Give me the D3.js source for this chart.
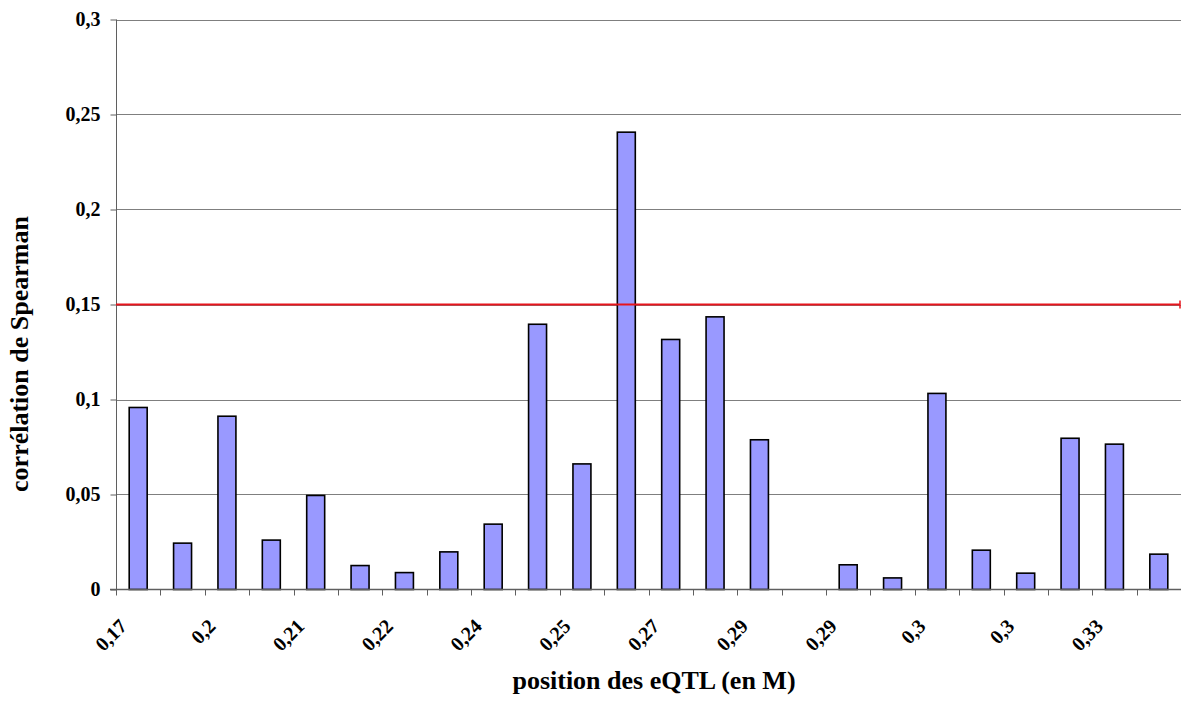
<!DOCTYPE html>
<html>
<head>
<meta charset="utf-8">
<script src="https://cdn.jsdelivr.net/npm/d3@7"></script>
<style>
  html, body { margin: 0; padding: 0; background: #fff; }
  svg { display: block; }
  text { font-family: "Liberation Serif", "Times New Roman", serif; font-weight: bold; fill: #000; }
</style>
</head>
<body>
<svg id="chart" width="1181" height="702"></svg>
<script>
// eQTL index along the chromosome (one bar each)
const categories = ["q1","q2","q3","q4","q5","q6","q7","q8","q9","q10","q11","q12",
                    "q13","q14","q15","q16","q17","q18","q19","q20","q21","q22","q23","q24"];
// Spearman correlation for each eQTL
const spearman = [0.0958, 0.0244, 0.0912, 0.0260, 0.0495, 0.0126, 0.0089, 0.0198,
                  0.0344, 0.1396, 0.0661, 0.2407, 0.1316, 0.1435, 0.0788, 0.0,
                  0.0130, 0.0061, 0.1032, 0.0207, 0.0086, 0.0796, 0.0765, 0.0186];
// Position labels (in M) shown under every other eQTL
const tickLabels = ["0,17","0,2","0,21","0,22","0,24","0,25","0,27","0,29","0,29","0,3","0,3","0,33"];
// Y axis ticks
const yTicks = [0, 0.05, 0.1, 0.15, 0.2, 0.25, 0.3];
const threshold = 0.15;

const margin = { left: 116, top: 19.5, right: 1181, bottom: 589.5 };
const svg = d3.select("#chart");

const x = d3.scaleBand().domain(categories).range([margin.left, margin.right]).paddingInner(0).paddingOuter(0);
const y = d3.scaleLinear().domain([0, 0.3]).range([margin.bottom, margin.top]);
const fmt = v => String(v).replace(".", ",");

// horizontal gridlines
svg.append("g").selectAll("line")
  .data(yTicks.filter(v => v > 0))
  .join("line")
  .attr("x1", margin.left).attr("x2", margin.right)
  .attr("y1", d => Math.round(y(d)) + 0.5).attr("y2", d => Math.round(y(d)) + 0.5)
  .attr("stroke", "#7f7f7f").attr("stroke-width", 1);

// bars
const bw = x.bandwidth() * 0.405;
svg.append("g").selectAll("rect")
  .data(spearman.map((v, i) => ({ c: categories[i], v })).filter(d => d.v > 0))
  .join("rect")
  .attr("x", d => x(d.c) + (x.bandwidth() - bw) / 2)
  .attr("y", d => y(d.v))
  .attr("width", bw)
  .attr("height", d => y(0) - y(d.v))
  .attr("fill", "#9999ff")
  .attr("stroke", "#000")
  .attr("stroke-width", 1.6);

// y axis
const yAxis = d3.axisLeft(y).tickValues(yTicks).tickSize(6).tickPadding(10).tickFormat(fmt);
const gy = svg.append("g").attr("transform", `translate(${margin.left + 0.5},0)`).call(yAxis);
gy.select(".domain").attr("stroke", "#5f5f5f").attr("d", `M0,${margin.top}V${margin.bottom}`);
gy.selectAll(".tick line").attr("stroke", "#5f5f5f");
gy.selectAll(".tick text").style("font-size", "20px").attr("fill", "#000");

// x axis: ticks on category boundaries
const gx = svg.append("g");
gx.append("line")
  .attr("x1", margin.left - 6).attr("x2", margin.right)
  .attr("y1", y(0)).attr("y2", y(0))
  .attr("stroke", "#5f5f5f").attr("stroke-width", 1.5);
gx.selectAll("line.tk")
  .data(categories)
  .join("line").attr("class", "tk")
  .attr("x1", d => Math.round(x(d)) + 0.5).attr("x2", d => Math.round(x(d)) + 0.5)
  .attr("y1", y(0)).attr("y2", y(0) + 6)
  .attr("stroke", "#5f5f5f");

// rotated position labels
gx.selectAll("text")
  .data(tickLabels)
  .join("text")
  .attr("text-anchor", "end")
  .style("font-size", "20px")
  .attr("transform", (d, i) => {
    const cx = x(categories[i * 2]) + x.bandwidth() / 2;
    return `translate(${cx - 10},${y(0) + 38}) rotate(-45)`;
  })
  .text(d => d);

// threshold line
svg.append("line")
  .attr("x1", margin.left).attr("x2", margin.right - 1)
  .attr("y1", y(threshold)).attr("y2", y(threshold))
  .attr("stroke", "#e8141c").attr("stroke-width", 2);
svg.append("line")
  .attr("x1", margin.right - 1).attr("x2", margin.right - 1)
  .attr("y1", y(threshold) - 4).attr("y2", y(threshold) + 4)
  .attr("stroke", "#e8141c").attr("stroke-width", 1.5);

// axis titles
svg.append("text")
  .attr("x", 654).attr("y", 689)
  .attr("text-anchor", "middle")
  .style("font-size", "26px")
  .text("position des eQTL (en M)");
svg.append("text")
  .attr("transform", "translate(27.5,354) rotate(-90)")
  .attr("text-anchor", "middle")
  .style("font-size", "26px")
  .text("corrélation de Spearman");
</script>
</body>
</html>
